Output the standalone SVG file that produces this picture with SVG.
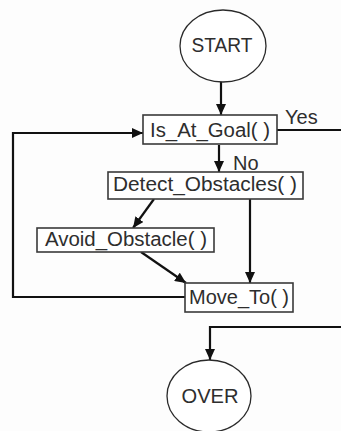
<svg xmlns="http://www.w3.org/2000/svg" width="341" height="431" viewBox="0 0 341 431">
<style>
.bg{fill:#fdfdfd}
.box{fill:#ffffff;stroke:#3a3a3a;stroke-width:1.6}
.term{fill:#ffffff;stroke:#2a2a2a;stroke-width:1.3}
.lbl{font-family:"Liberation Sans",Arial,sans-serif;font-size:20px;fill:#2e2e2e;text-anchor:middle}
.edge{fill:none;stroke:#111;stroke-width:2.2}
.elbl{font-family:"Liberation Sans",Arial,sans-serif;font-size:20px;fill:#2e2e2e}
</style>
<defs>
<marker id="ah" markerUnits="userSpaceOnUse" markerWidth="12" markerHeight="10" refX="11" refY="5" orient="auto">
<path d="M0,0 L11,5 L0,10 z" fill="#111"/>
</marker>
</defs>
<rect class="bg" x="0" y="0" width="341" height="431"/>
<g id="connectors">
<line class="edge" x1="221" y1="82" x2="221" y2="115" marker-end="url(#ah)"/>
<line class="edge" x1="219" y1="145" x2="219" y2="172" marker-end="url(#ah)"/>
<line class="edge" x1="154" y1="199" x2="133" y2="228" marker-end="url(#ah)"/>
<line class="edge" x1="250" y1="199" x2="250" y2="283" marker-end="url(#ah)"/>
<line class="edge" x1="141" y1="252" x2="186" y2="283" marker-end="url(#ah)"/>
<polyline class="edge" points="185,297 13,297 13,133 143,133" marker-end="url(#ah)"/>
<line class="edge" x1="277" y1="130" x2="341" y2="130"/>
<polyline class="edge" points="341,327 210,327 210,360" marker-end="url(#ah)"/>
<text class="elbl" x="285" y="124">Yes</text>
<text class="elbl" x="233" y="170">No</text>
</g>
<g id="start">
<ellipse class="term" cx="223" cy="46" rx="43" ry="36"/>
<text class="lbl" x="222" y="52" textLength="61" lengthAdjust="spacingAndGlyphs">START</text>
</g>
<g id="is_at_goal">
<rect class="box" x="143" y="115" width="134" height="29"/>
<text class="lbl" x="210" y="137" textLength="120" lengthAdjust="spacingAndGlyphs">Is_At_Goal( )</text>
</g>
<g id="detect_obstacles">
<rect class="box" x="108" y="172" width="195" height="27"/>
<text class="lbl" x="205" y="190.5" textLength="184" lengthAdjust="spacingAndGlyphs">Detect_Obstacles( )</text>
</g>
<g id="avoid_obstacle">
<rect class="box" x="37" y="228" width="177" height="24"/>
<text class="lbl" x="126" y="246" textLength="162" lengthAdjust="spacingAndGlyphs">Avoid_Obstacle( )</text>
</g>
<g id="move_to">
<rect class="box" x="185" y="283" width="108" height="29"/>
<text class="lbl" x="239" y="304" textLength="100" lengthAdjust="spacingAndGlyphs">Move_To( )</text>
</g>
<g id="over">
<ellipse class="term" cx="209" cy="396" rx="42" ry="36"/>
<text class="lbl" x="210" y="402.5" textLength="57" lengthAdjust="spacingAndGlyphs">OVER</text>
</g>
</svg>
